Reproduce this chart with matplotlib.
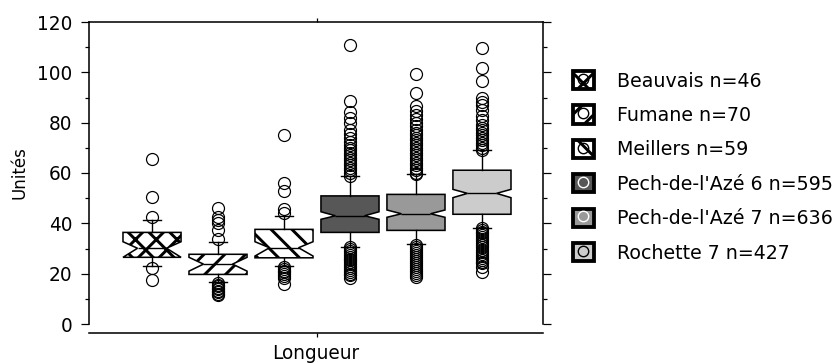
import matplotlib
matplotlib.use("Agg")
import matplotlib.pyplot as plt
from matplotlib.patches import Rectangle
from matplotlib.lines import Line2D
from matplotlib.legend_handler import HandlerTuple
from matplotlib.ticker import MultipleLocator

plt.rcParams['font.family'] = ['DejaVu Sans']
plt.rcParams['hatch.linewidth'] = 1.7

# ---------------- data ----------------
labels = ["Beauvais n=46", "Fumane n=70", "Meillers n=59",
          "Pech-de-l'Azé 6 n=595", "Pech-de-l'Azé 7 n=636", "Rochette 7 n=427"]
q1 = [26.5, 19.7, 26.3, 36.4, 37.2, 43.6]
med = [30.1, 23.8, 30.3, 43.0, 43.8, 51.9]
q3 = [36.4, 27.7, 37.6, 50.9, 51.5, 61.1]
ci_lo = [26.5, 21.0, 27.0, 41.6, 42.4, 50.2]
ci_hi = [32.7, 26.5, 32.7, 44.6, 45.3, 53.5]
whis_lo = [23.0, 16.6, 23.2, 30.7, 31.7, 38.3]
whis_hi = [41.3, 32.7, 43.0, 58.8, 59.5, 69.1]
fliers = [
    [65.6, 50.3, 42.4, 22.1, 17.5],
    [46.0, 42.6, 41.3, 40.3, 37.3, 33.8,
     16.2, 15.6, 15.0, 14.4, 13.8, 13.2, 12.6, 12.0, 11.5],
    [75.1, 55.9, 52.8, 45.6, 44.0,
     22.8, 22.0, 21.2, 20.5, 19.8, 19.0, 18.3, 15.8],
    [110.8, 88.6, 84.4, 81.7, 79.7, 77.0, 75.5, 74.0, 72.5, 71.0, 70.0,
     69.0, 68.0, 67.0, 66.0, 65.0, 64.0, 63.0, 62.0, 61.0, 60.0, 59.0,
     30.5, 29.8, 29.0, 28.3, 27.5, 26.8, 26.0, 25.3, 24.5, 23.8, 23.0,
     22.3, 21.5, 20.8, 20.0, 19.3, 18.4],
    [99.2, 91.9, 86.6, 84.5, 83.0, 81.5, 80.0, 78.5, 77.0, 76.0, 75.0,
     74.0, 73.0, 72.0, 71.0, 70.0, 69.0, 68.0, 67.0, 66.0, 65.0, 64.0,
     63.0, 62.0, 61.0, 60.0, 59.5,
     31.4, 30.6, 29.8, 29.0, 28.2, 27.4, 26.6, 25.8, 25.0, 24.2, 23.4,
     22.6, 21.8, 21.0, 20.2, 19.5, 18.8],
    [109.5, 101.6, 96.5, 89.7, 88.3, 87.0, 85.0, 82.6, 81.0, 79.0, 78.0,
     77.0, 76.0, 75.0, 74.0, 73.0, 72.0, 71.0, 70.0, 69.2,
     38.3, 37.5, 36.7, 36.0, 35.2, 34.4, 33.6, 32.8, 32.0, 31.2, 30.4,
     29.6, 28.8, 28.0, 27.2, 26.4, 25.6, 24.8, 24.1, 22.5, 20.8],
]
face_colors = ["white", "white", "white", "#575757", "#999999", "#cccccc"]
hatches = ["xx", "//", "\\\\", None, None, None]
legend_marker_edge = ["black", "black", "black", "white", "white", "black"]

yticks = [0, 20, 40, 60, 80, 100, 120]
ylabel = "Unités"
xlabel = "Longueur"

FS = 10.7
LFS = 10.95

# ---------------- figure ----------------
W, H, DPI = 838, 363, 125
fig = plt.figure(figsize=(W / DPI, H / DPI), dpi=DPI)
ax = fig.add_axes([89 / W, (H - 324) / H, (543 - 89) / W, (324 - 22) / H])

stats = []
for i in range(len(labels)):
    stats.append(dict(med=med[i], q1=q1[i], q3=q3[i], whislo=whis_lo[i],
                      whishi=whis_hi[i], fliers=fliers[i],
                      cilo=ci_lo[i], cihi=ci_hi[i], label=labels[i]))

positions = list(range(len(labels)))
bp = ax.bxp(stats, positions=positions, widths=0.88, shownotches=True,
            patch_artist=True, capwidths=0.27, manage_ticks=False,
            boxprops=dict(edgecolor="black", linewidth=0.9),
            medianprops=dict(color="black", linewidth=0.8),
            whiskerprops=dict(color="black", linewidth=0.8),
            capprops=dict(color="black", linewidth=0.8),
            flierprops=dict(marker="o", markerfacecolor="none",
                            markeredgecolor="black", markersize=6.9,
                            markeredgewidth=0.7))
for patch, fc, h in zip(bp["boxes"], face_colors, hatches):
    patch.set_facecolor(fc)
    if h:
        patch.set_hatch(h)

ax.set_xlim(-0.955, 5.925)
ax.set_ylim(0, 120)
ax.set_yticks(yticks)
ax.yaxis.set_minor_locator(MultipleLocator(10))
ax.set_xticks([2.5])
ax.set_xticklabels([""])

for s in ax.spines.values():
    s.set_linewidth(0.9)
ax.spines["bottom"].set_position(("outward", 5))

ax.tick_params(axis="y", which="major", direction="out", length=4.6,
               width=0.7, labelsize=FS, pad=5.0, right=True, left=True)
ax.tick_params(axis="y", which="minor", direction="out", length=2.3,
               width=0.7, right=True, left=True)
ax.tick_params(axis="x", which="major", direction="out", length=2.3,
               width=0.7, top=True, bottom=True)

ax.set_ylabel(ylabel, fontsize=9.6, labelpad=5)
ax.set_xlabel(xlabel, fontsize=FS, labelpad=1.0)

# ---------------- legend ----------------
handles = []
for fc, h, me in zip(face_colors, hatches, legend_marker_edge):
    r = Rectangle((0, 0), 1, 1, facecolor=fc, edgecolor="black",
                  linewidth=2.2, hatch=h)
    m = Line2D([], [], linestyle="none", marker="o", markersize=6.0,
               markerfacecolor="none", markeredgecolor=me,
               markeredgewidth=0.8)
    handles.append((r, m))

fig.legend(handles, labels, loc="upper left",
           bbox_to_anchor=(573 / W, 1 - 71 / H),
           bbox_transform=fig.transFigure,
           handler_map={tuple: HandlerTuple(ndivide=1)},
           frameon=False, fontsize=LFS, borderpad=0, borderaxespad=0,
           handlelength=1.1, handleheight=1.1, handletextpad=1.2,
           labelspacing=0.78)

fig.savefig("out.png", dpi=DPI)
